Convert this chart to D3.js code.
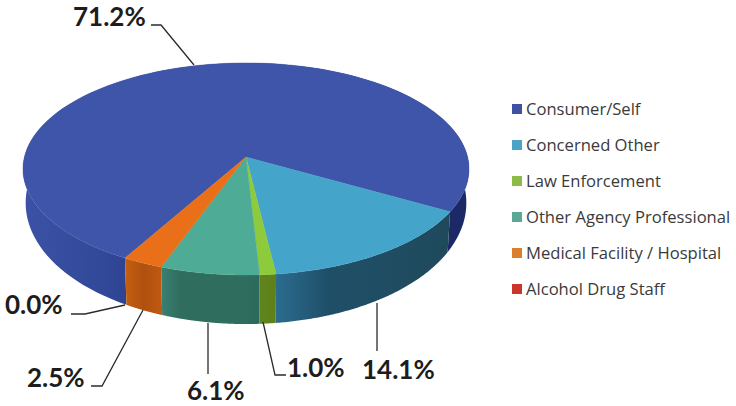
<!DOCTYPE html>
<html>
<head>
<meta charset="utf-8">
<script src="https://cdn.jsdelivr.net/npm/d3@7"></script>
<style>
  html, body { margin: 0; padding: 0; background: #fff; }
  svg { display: block; }
</style>
</head>
<body>
<svg id="chart" width="736" height="406"></svg>
<script>
// Referral sources and their share of admissions
const categories = ["Consumer/Self", "Concerned Other", "Law Enforcement",
  "Other Agency Professional", "Medical Facility / Hospital", "Alcohol Drug Staff"];
const shares = [71.2, 14.1, 1.0, 6.1, 2.5, 0.0];
const shareLabels = ["71.2%", "14.1%", "1.0%", "6.1%", "2.5%", "0.0%"];
const topColors = ["#3f55a9", "#45a4c9", "#8ecb3c", "#4eac96", "#e96f18", "#c0392b"];
const legendColors = ["#3f51a0", "#4ba3c6", "#8cbc47", "#5aa897", "#d97f2e", "#c8362e"];

// Gradient stops for the rim of each slice: [offset, colour]
const rimStops = [
  [[0, "#3c52a6"], [0.22, "#2f4594"], [0.95, "#1b2a66"], [1, "#1b2a66"]],
  [[0, "#2b6c90"], [0.3, "#1f4f68"], [1, "#1f4a5c"]],
  [[0, "#5f8420"], [1, "#5f8018"]],
  [[0, "#3a8073"], [0.2, "#2f6d5e"], [0.85, "#2f6d5e"], [1, "#2a6a5c"]],
  [[0, "#c4600f"], [0.5, "#b0500f"], [1, "#c05a10"]],
  [[0, "#8e2a20"], [1, "#8e2a20"]]
];

// Leader lines and text anchors for the value labels, same order as shareLabels
const labelLayout = [
  { x: 73,  y: 26,  line: [[151, 25], [161, 25], [194, 65]] },
  { x: 362, y: 379, line: [[377, 303], [377, 351]] },
  { x: 287, y: 377, line: [[263, 322], [275, 375], [286, 375]] },
  { x: 187, y: 400, line: [[208, 323], [208, 374]] },
  { x: 27,  y: 387, line: [[91, 386], [102, 386], [143, 310]] },
  { x: 5,   y: 314, line: [[71, 314], [85, 314], [125, 305]] }
];

const svg = d3.select("#chart");
const defs = svg.append("defs");

// Perspective projection of the unit disc onto the page
const apex = { x: 246, y: 157 };
const radiusX = 221.6, radiusY = 104.7, perspective = 0.113;
const rimDepth = d3.scaleLinear().domain([-1, 1]).range([15, 49]);
const project = (angle, drop) => {
  const u = Math.sin(angle), v = -Math.cos(angle);
  const w = 1 - perspective * v;
  return [
    apex.x + (drop ? 0.988 : 1) * radiusX * u / w,
    apex.y + radiusY * v / w + (drop ? rimDepth(v) : 0)
  ];
};

const startAngle = 2 * Math.PI * (209.5 / 360);
const arcs = d3.pie().sort(null).value(d => d)
  .startAngle(startAngle).endAngle(startAngle + 2 * Math.PI)(shares);

const line = d3.line();
const samples = (a, drop) => d3.range(0, 121).map(i =>
  project(a.startAngle + (a.endAngle - a.startAngle) * i / 120, drop));

// Rims first, so the top faces sit over them
arcs.forEach((a, i) => {
  if (a.value === 0) return;
  const top = samples(a, false), bottom = samples(a, true);
  const [x0, x1] = d3.extent(top.concat(bottom), p => p[0]);
  const grad = defs.append("linearGradient").attr("id", "rim" + i)
    .attr("gradientUnits", "userSpaceOnUse")
    .attr("x1", x0).attr("x2", x1).attr("y1", 0).attr("y2", 0);
  rimStops[i].forEach(s => grad.append("stop").attr("offset", s[0]).attr("stop-color", s[1]));
  svg.append("path")
    .attr("d", line(top.concat(bottom.reverse())) + "Z")
    .attr("fill", `url(#rim${i})`);
});

// Top faces
arcs.forEach((a, i) => {
  if (a.value === 0) return;
  svg.append("path")
    .attr("d", line([[apex.x, apex.y]].concat(samples(a, false))) + "Z")
    .attr("fill", topColors[i])
    .attr("stroke", topColors[i]).attr("stroke-width", 0.4);
});

// Leader lines
svg.append("g").selectAll("path").data(labelLayout).join("path")
  .attr("d", d => line(d.line))
  .attr("fill", "none").attr("stroke", "#2b2b2b").attr("stroke-width", 1.3);

// Value labels
svg.append("g").selectAll("text").data(labelLayout).join("text")
  .attr("x", d => d.x).attr("y", d => d.y)
  .attr("font-family", "Lato, sans-serif").attr("font-weight", 700)
  .attr("font-size", 26).attr("fill", "#1d1d1d")
  .text((d, i) => shareLabels[i]);

// Legend
const legendY = d3.scalePoint().domain(categories).range([109, 289]);
const legend = svg.append("g").selectAll("g").data(categories).join("g")
  .attr("transform", d => `translate(512,${legendY(d)})`);
legend.append("rect").attr("x", 0).attr("y", -5).attr("width", 10).attr("height", 10)
  .attr("fill", (d, i) => legendColors[i]);
legend.append("text").attr("x", 14).attr("y", 5.5)
  .attr("font-family", "'Open Sans', sans-serif").attr("font-size", 16.6)
  .attr("fill", "#3a3a3a").text(d => d);
</script>
</body>
</html>
